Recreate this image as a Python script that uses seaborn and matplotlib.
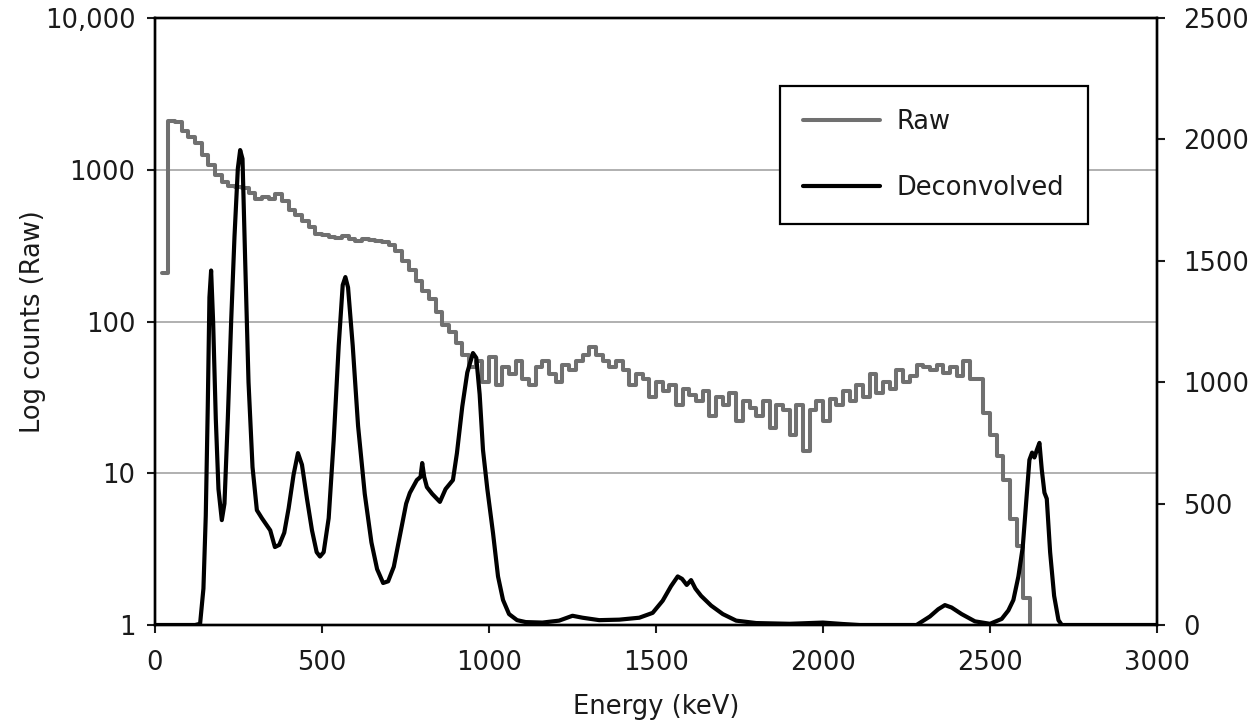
import numpy as np
import pandas as pd
import matplotlib
matplotlib.use("Agg")
import matplotlib.pyplot as plt
import matplotlib.ticker as mticker
import seaborn as sns

# Raw spectrum: 20 keV bins, counts per bin (log axis)
raw_bin_start = np.arange(20, 2640, 20)
raw_counts = [
    210, 2100, 2050, 1800, 1650, 1500, 1250, 1080, 930, 830,
    780, 770, 760, 700, 640, 660, 640, 690, 620, 540,
    500, 460, 420, 380, 370, 360, 355, 365, 350, 340,
    350, 345, 340, 335, 320, 290, 250, 220, 185, 160,
    140, 115, 95, 85, 72, 60, 50, 55, 40, 58,
    38, 50, 45, 55, 42, 38, 50, 55, 45, 40,
    52, 48, 55, 60, 68, 60, 55, 50, 55, 48,
    38, 45, 42, 32, 40, 35, 38, 28, 36, 33,
    30, 35, 24, 32, 28, 34, 22, 30, 27, 24,
    30, 20, 28, 26, 18, 28, 14, 26, 30, 22,
    31, 28, 35, 30, 38, 32, 45, 34, 40, 36,
    48, 40, 44, 52, 50, 48, 52, 46, 50, 44,
    55, 42, 42, 25, 18, 13, 9, 5, 3.3, 1.5,
    1.0,
]

# Deconvolved spectrum (linear axis)
dec_energy = [
    0, 120, 135, 145, 152, 158, 163, 168, 174, 182, 190, 200, 208, 218,
    228, 238, 248, 255, 262, 270, 280, 292, 305, 320, 335, 345, 359, 372,
    387, 400, 415, 428, 440, 455, 470, 484, 494, 505, 520, 535, 550, 562,
    570, 578, 592, 608, 628, 648, 665, 683, 698, 715, 735, 752, 763, 784,
    795, 800, 806, 814, 830, 853, 870, 892, 904, 920, 935, 952, 962, 972,
    982, 995, 1012, 1027, 1042, 1060, 1084, 1110, 1160, 1210, 1250, 1280,
    1330, 1390, 1450, 1490, 1520, 1545, 1565, 1578, 1592, 1605, 1618, 1635,
    1665, 1700, 1740, 1800, 1900, 2000, 2060, 2110, 2280, 2320, 2345, 2365,
    2385, 2415, 2455, 2500, 2535, 2555, 2570, 2585, 2598, 2608, 2618, 2626,
    2633, 2640, 2648, 2655, 2663, 2670, 2680, 2692, 2705, 2715, 3000,
]
dec_counts = [
    0, 0, 5, 150, 450, 900, 1350, 1460, 1250, 850, 560, 432, 500, 850,
    1250, 1600, 1880, 1956, 1920, 1500, 1000, 650, 473, 440, 410, 390, 321, 330,
    380, 480, 620, 708, 660, 520, 390, 300, 282, 300, 440, 760, 1150, 1400,
    1433, 1390, 1150, 820, 540, 340, 230, 173, 180, 240, 380, 500, 544, 597,
    610, 667, 610, 568, 540, 507, 560, 597, 708, 900, 1040, 1120, 1100, 950,
    721, 560, 379, 200, 103, 45, 20, 12, 10, 18, 38, 30,
    20, 22, 30, 50, 100, 160, 200, 190, 165, 185, 150, 120,
    80, 45, 18, 8, 5, 10, 4, 0, 0, 35, 65, 82,
    72, 45, 15, 5, 25, 60, 103, 200, 320, 500, 680, 710,
    690, 720, 750, 640, 545, 520, 300, 120, 20, 0, 0,
]

left_ticks = [1, 10, 100, 1000, 10000]
left_tick_labels = ["1", "10", "100", "1000", "10,000"]
right_ticks = [0, 500, 1000, 1500, 2000, 2500]
x_ticks = [0, 500, 1000, 1500, 2000, 2500, 3000]

raw_df = pd.DataFrame({"energy": raw_bin_start, "counts": raw_counts})
dec_df = pd.DataFrame({"energy": dec_energy, "counts": dec_counts})

sns.set_style("ticks")
plt.rcParams["font.family"] = ["DejaVu Sans"]
plt.rcParams["font.size"] = 18.5
plt.rcParams["text.color"] = "#1a1a1a"
plt.rcParams["axes.labelcolor"] = "#1a1a1a"
plt.rcParams["xtick.color"] = "#1a1a1a"
plt.rcParams["ytick.color"] = "#1a1a1a"

fig = plt.figure(figsize=(12.51, 7.24), dpi=100)
ax = fig.add_axes([155 / 1251, 1 - 625 / 724, (1157 - 155) / 1251, (625 - 18) / 724])
ax2 = ax.twinx()

sns.lineplot(data=raw_df, x="energy", y="counts", ax=ax, color="#707070",
             linewidth=2.9, drawstyle="steps-post", estimator=None, sort=False,
             label="Raw", legend=False)
sns.lineplot(data=dec_df, x="energy", y="counts", ax=ax2, color="black",
             linewidth=3.0, estimator=None, sort=False,
             label="Deconvolved", legend=False)

ax.set_yscale("log")
ax.set_ylim(1, 10000)
ax.set_xlim(0, 3000)
ax2.set_ylim(0, 2500)

ax.set_yticks(left_ticks)
ax.yaxis.set_major_formatter(mticker.FixedFormatter(left_tick_labels))
ax.yaxis.set_minor_locator(mticker.NullLocator())
ax.set_xticks(x_ticks)
ax2.set_yticks(right_ticks)

ax.yaxis.grid(True, color="#b0b0b0", linewidth=1.4)
ax.set_axisbelow(True)

for a in (ax, ax2):
    for s in a.spines.values():
        s.set_color("black")
        s.set_linewidth(1.7)
    a.tick_params(axis="both", which="major", direction="out", length=6,
                  width=1.5, labelsize=18.5, pad=8)
ax.tick_params(axis="x", pad=12)
ax2.tick_params(axis="y", pad=13)

ax.set_xlabel("Energy (keV)", fontsize=18.5, labelpad=13)
ax.set_ylabel("Log counts (Raw)", fontsize=18.5, labelpad=-0.5)
ax2.set_ylabel("")

handles = ax.get_lines()[:1] + ax2.get_lines()[:1]
leg = ax2.legend(handles, ["Raw", "Deconvolved"], loc="upper left",
                 bbox_to_anchor=(780 / 1251, 1 - 86 / 724),
                 bbox_transform=fig.transFigure, borderaxespad=0,
                 frameon=True, fancybox=False, framealpha=1, fontsize=18.5,
                 borderpad=0.9, handlelength=3.0, handletextpad=0.65,
                 labelspacing=1.55)
leg.get_frame().set_edgecolor("black")
leg.get_frame().set_linewidth(1.6)

fig.savefig("out.png", dpi=100)
